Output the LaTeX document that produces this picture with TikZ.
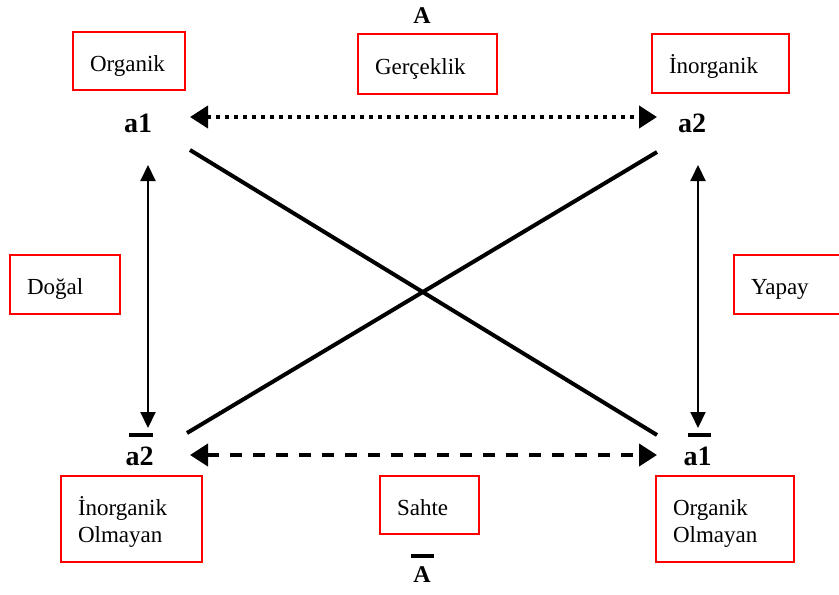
\documentclass[tikz,border=0pt]{standalone}
\usepackage{fontspec}
\setmainfont{Liberation Serif}
\usetikzlibrary{arrows.meta}
\tikzset{
  rbox/.style={draw=red, line width=1.1pt, align=left, inner xsep=8.5pt, inner ysep=0pt,
    font=\fontsize{11.5}{13.5}\selectfont,
    execute at begin node={\rule[-4pt]{0pt}{18pt}},
    execute at end node={\rule[-4pt]{0pt}{4pt}}},
  lbl/.style={inner sep=0pt, font=\fontsize{14}{16}\selectfont\bfseries},
  albl/.style={inner sep=0pt, font=\fontsize{12}{14}\selectfont\bfseries},
  dotline/.style={line width=2pt, dash pattern=on 2pt off 2.5pt,
    {Triangle[length=9pt,width=11pt]}-{Triangle[length=9pt,width=11pt]}},
  dashline/.style={line width=2pt, dash pattern=on 6pt off 5.5pt,
    {Triangle[length=9pt,width=11pt]}-{Triangle[length=9pt,width=11pt]}},
  diag/.style={line width=2pt},
  vline/.style={line width=1pt,
    {Triangle[length=8pt,width=7.5pt]}-{Triangle[length=8pt,width=7.5pt]}},
  bar/.style={line width=2pt}
}
\begin{document}
\begin{tikzpicture}[x=0.5pt,y=-0.5pt]
\useasboundingbox (0,0) rectangle (839,594);
% boxes
\node[rbox, text width=39pt, minimum height=29pt] (org) at (129,61) {Organik};
\node[rbox, text width=52.5pt, minimum height=30pt] (ger) at (427.5,64) {Gerçeklik};
\node[rbox, text width=51.5pt, minimum height=29.5pt] (inorg) at (720.5,63.5) {İnorganik};
\node[rbox, text width=38pt, minimum height=29.5pt] (dog) at (65,284.5) {Doğal};
\node[rbox, text width=41pt, minimum height=29.5pt] (yap) at (792,284.5) {Yapay};
\node[rbox, text width=53.5pt, minimum height=43pt] (inol) at (131.5,519) {İnorganik\\Olmayan};
\node[rbox, text width=32.5pt, minimum height=29pt] (sah) at (429.5,505) {Sahte};
\node[rbox, text width=52pt, minimum height=43pt] (orol) at (725,519) {Organik\\Olmayan};
% labels
\node[albl] (A) at (422,16) {A};
\node[albl] (Ab) at (422,575) {A};
\node[lbl] (a1) at (138,123) {a1};
\node[lbl] (a2) at (692,123) {a2};
\node[lbl] (a2b) at (139.5,456) {a2};
\node[lbl] (a1b) at (697.5,456) {a1};
% overline bars
\draw[bar] ([shift={(-10.5,-21)}]a2b.center) -- ([shift={(13.5,-21)}]a2b.center);
\draw[bar] ([shift={(-9.5,-21)}]a1b.center) -- ([shift={(13.5,-21)}]a1b.center);
\draw[bar] ([shift={(-11,-19)}]Ab.center) -- ([shift={(12,-19)}]Ab.center);
% connectors
\draw[dotline] ([shift={(52,-6)}]a1.center) -- ([shift={(-35,-6)}]a2.center);
\draw[dashline] ([shift={(50.5,-1)}]a2b.center) -- ([shift={(-40.5,-1)}]a1b.center);
\draw[diag] ([shift={(52,27)}]a1.center) -- ([shift={(-40.5,-21)}]a1b.center);
\draw[diag] ([shift={(-35,29)}]a2.center) -- ([shift={(47.5,-23)}]a2b.center);
\draw[vline] ([shift={(10,42)}]a1.center) -- ([shift={(8.5,-28)}]a2b.center);
\draw[vline] ([shift={(6,42)}]a2.center) -- ([shift={(0.5,-28)}]a1b.center);
\end{tikzpicture}
\end{document}
